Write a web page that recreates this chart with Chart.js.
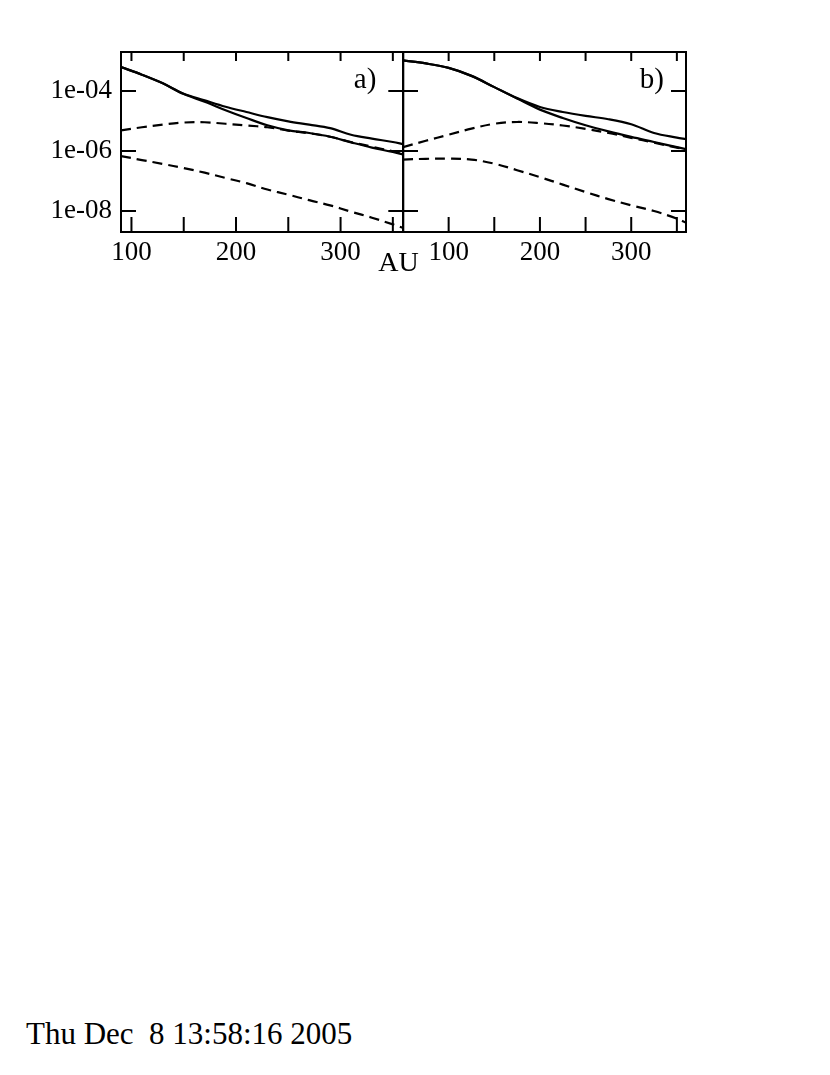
<!DOCTYPE html>
<html><head><meta charset="utf-8">
<script src="https://cdn.jsdelivr.net/npm/chart.js@4/dist/chart.umd.min.js"></script>
<style>
html,body{margin:0;padding:0;background:#fff;width:830px;height:1075px;overflow:hidden;position:relative;font-family:"Liberation Serif","Times New Roman",serif;}
#ca{position:absolute;left:0;top:0;}
#cb{position:absolute;left:393px;top:0;}
.txt{position:absolute;color:#000;white-space:pre;font-family:"Liberation Serif","Times New Roman",serif;}
</style></head><body>
<canvas id="ca" width="415" height="300"></canvas>
<canvas id="cb" width="310" height="300"></canvas>
<div class="txt" style="left:368.5px;top:247.5px;width:60px;text-align:center;font-size:28px;line-height:28px;">AU</div>
<div class="txt" style="left:26px;top:1018px;font-size:31px;line-height:31px;">Thu Dec  8 13:58:16 2005</div>
<script>
// ---- data ----
const xA = [90, 110, 130, 150, 170, 190, 210, 230, 250, 270, 290, 310, 330, 350, 360];
const aSolidUpper = [6.3e-4, 3.5e-4, 1.8e-4, 8.1e-5, 4.9e-5, 3.0e-5, 2.0e-5, 1.35e-5, 9.8e-6, 7.6e-6, 5.8e-6, 3.5e-6, 2.6e-6, 2.0e-6, 1.7e-6];
const aSolidLower = [6.3e-4, 3.5e-4, 1.8e-4, 7.9e-5, 4.4e-5, 2.3e-5, 1.26e-5, 7.2e-6, 4.9e-6, 4.0e-6, 3.0e-6, 1.95e-6, 1.3e-6, 9.3e-7, 7.6e-7];
const aDashUpper  = [4.9e-6, 6.2e-6, 7.6e-6, 8.9e-6, 9.1e-6, 8.1e-6, 7.1e-6, 6.2e-6, 4.8e-6, 3.9e-6, 3.0e-6, 2.0e-6, 1.4e-6, 9.8e-7, 8.5e-7];
const aDashLower  = [6.8e-7, 5.0e-7, 3.7e-7, 2.7e-7, 1.9e-7, 1.26e-7, 8.5e-8, 5.2e-8, 3.5e-8, 2.3e-8, 1.55e-8, 9.5e-9, 6.0e-9, 3.6e-9, 2.7e-9];

const xB = [50, 75, 100, 125, 150, 175, 200, 225, 250, 275, 300, 325, 350, 360];
const bSolidUpper = [1.05e-3, 8.3e-4, 5.9e-4, 3.2e-4, 1.35e-4, 5.8e-5, 2.95e-5, 2.0e-5, 1.48e-5, 1.15e-5, 7.8e-6, 4.0e-6, 2.8e-6, 2.5e-6];
const bSolidLower = [1.05e-3, 8.3e-4, 5.9e-4, 3.2e-4, 1.35e-4, 5.6e-5, 2.4e-5, 1.26e-5, 7.2e-6, 4.5e-6, 2.95e-6, 2.0e-6, 1.35e-6, 1.15e-6];
const bDashUpper  = [1.35e-6, 2.2e-6, 3.5e-6, 5.6e-6, 8.1e-6, 9.3e-6, 8.5e-6, 7.1e-6, 5.5e-6, 4.0e-6, 2.75e-6, 1.9e-6, 1.3e-6, 1.15e-6];
const bDashLower  = [5.2e-7, 5.5e-7, 5.6e-7, 5.2e-7, 3.8e-7, 2.3e-7, 1.35e-7, 7.6e-8, 4.3e-8, 2.5e-8, 1.55e-8, 1.0e-8, 5.6e-9, 4.1e-9];

const xTickValues = [100, 200, 300];
const xTickLabels = ['100', '200', '300'];
const xMinorTicks = [100, 150, 200, 250, 300, 350];
const yTickValues = [1e-8, 1e-6, 1e-4];
const yTickLabels = ['1e-08', '1e-06', '1e-04'];
const panelLabels = ['a)', 'b)'];

// ---- rendering ----
const FONT = '"Liberation Serif", "Times New Roman", serif';
const framePlugin = {
  id: 'frame',
  afterDatasetsDraw(chart, args, opts) {
    const {ctx, chartArea: a, scales: {x, y}} = chart;
    ctx.save();
    ctx.strokeStyle = '#000';
    ctx.lineWidth = 2;
    ctx.strokeRect(a.left, a.top, a.right - a.left, a.bottom - a.top);
    ctx.beginPath();
    xMinorTicks.forEach(v => {
      const px = x.getPixelForValue(v);
      if (px < a.left || px > a.right) return;
      ctx.moveTo(px, a.bottom); ctx.lineTo(px, a.bottom - 15);
      ctx.moveTo(px, a.top); ctx.lineTo(px, a.top + 9);
    });
    yTickValues.forEach(v => {
      const py = y.getPixelForValue(v);
      ctx.moveTo(a.left, py); ctx.lineTo(a.left + 15, py);
      ctx.moveTo(a.right, py); ctx.lineTo(a.right - 15, py);
    });
    ctx.stroke();
    ctx.fillStyle = '#000';
    ctx.font = '29px ' + FONT;
    ctx.textAlign = 'right';
    ctx.textBaseline = 'alphabetic';
    ctx.fillText(opts.label, a.right - opts.labelRight, a.top + opts.labelBase);
    ctx.restore();
  }
};

function ds(xs, ys, dashed) {
  return {
    data: xs.map((x, i) => ({x: x, y: ys[i]})),
    borderColor: '#000',
    borderWidth: 2.2,
    borderDash: dashed ? [10, 6] : [],
    pointRadius: 0,
    fill: false,
    tension: 0.35
  };
}

function makeChart(id, xs, series, xmin, xmax, showY, pad, label, labelRight) {
  return new Chart(document.getElementById(id), {
    type: 'line',
    data: {datasets: series.map(s => ds(xs, s[0], s[1]))},
    plugins: [framePlugin],
    options: {
      responsive: false,
      animation: false,
      events: [],
      layout: {padding: pad},
      plugins: {
        legend: {display: false},
        tooltip: {enabled: false},
        frame: {label: label, labelRight: labelRight, labelBase: 36}
      },
      scales: {
        x: {
          type: 'linear', min: xmin, max: xmax,
          afterBuildTicks: s => { s.ticks = xTickValues.map(v => ({value: v})); },
          ticks: {
            callback: (v, i) => xTickLabels[i],
            font: {family: FONT, size: 27}, color: '#000', padding: 5,
            maxRotation: 0, autoSkip: false
          },
          grid: {display: false, drawTicks: false},
          border: {display: false},
          afterFit: s => { s.height = 68; }
        },
        y: {
          type: 'logarithmic', min: 2e-9, max: 2e-3,
          display: showY,
          afterBuildTicks: s => { s.ticks = yTickValues.map(v => ({value: v})); },
          ticks: {
            callback: (v, i) => yTickLabels[i],
            font: {family: FONT, size: 27}, color: '#000', padding: 9
          },
          grid: {display: false, drawTicks: false},
          border: {display: false},
          afterFit: s => { s.width = showY ? 121 : 0; }
        }
      }
    }
  });
}

makeChart('ca', xA, [[aSolidUpper, false], [aSolidLower, false], [aDashUpper, true], [aDashLower, true]],
  90, 360, true, {left: 0, top: 52, right: 11.7, bottom: 0}, panelLabels[0], 27);
makeChart('cb', xB, [[bSolidUpper, false], [bSolidLower, false], [bDashUpper, true], [bDashLower, true]],
  50, 360, false, {left: 10, top: 52, right: 17, bottom: 0}, panelLabels[1], 22);
</script>
</body></html>
